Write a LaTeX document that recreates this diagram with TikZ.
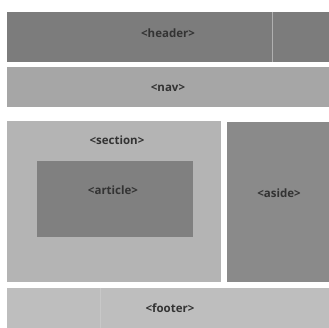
\documentclass[tikz,border=0pt]{standalone}
\usepackage{fontspec}
\setmainfont{Open Sans}
\usepackage{xcolor}
\usetikzlibrary{positioning, calc}

\definecolor{hdrgray}{HTML}{7C7C7C}
\definecolor{navgray}{HTML}{A6A6A6}
\definecolor{secgray}{HTML}{B4B4B4}
\definecolor{artgray}{HTML}{808080}
\definecolor{asdgray}{HTML}{8A8A8A}
\definecolor{ftrgray}{HTML}{BEBEBE}

\begin{document}
\begin{tikzpicture}[x=1pt, y=-1pt,
    every node/.style={font=\fontsize{11.5}{13}\selectfont\bfseries, text=black!80, inner sep=0pt, anchor=north west},
    block/.style={rectangle}]
    \useasboundingbox (0,0) rectangle (329,328);
    % page blocks
    \node[block, fill=hdrgray, minimum width=322pt, minimum height=50pt] (hdr) at (7,12) {};
    \node[block, fill=navgray, minimum width=322pt, minimum height=40pt] (navbar) at (7,67) {};
    \node[block, fill=secgray, minimum width=214pt, minimum height=161pt] (sect) at (7,121) {};
    \node[block, fill=artgray, minimum width=156pt, minimum height=76pt] (art) at (37,161) {};
    \node[block, fill=asdgray, minimum width=102pt, minimum height=160pt] (asd) at (227,122) {};
    \node[block, fill=ftrgray, minimum width=322pt, minimum height=40pt] (ftr) at (7,288) {};
    \draw[hdrgray!60!white, line width=0.5pt] (272,12) -- (272,62);
    \draw[ftrgray!85!white, line width=0.5pt] (100,288) -- (100,328);
    % labels
    \node[anchor=center] (hdrlbl) at (168,33) {<header>};
    \node[anchor=center] (navlbl) at (168,88) {<nav>};
    \node[anchor=center] (seclbl) at (117,140) {<section>};
    \node[anchor=center] (artlbl) at (113,190) {<article>};
    \node[anchor=center] (asdlbl) at (279,193) {<aside>};
    \node[anchor=center] (ftrlbl) at (170,308) {<footer>};
\end{tikzpicture}
\end{document}
